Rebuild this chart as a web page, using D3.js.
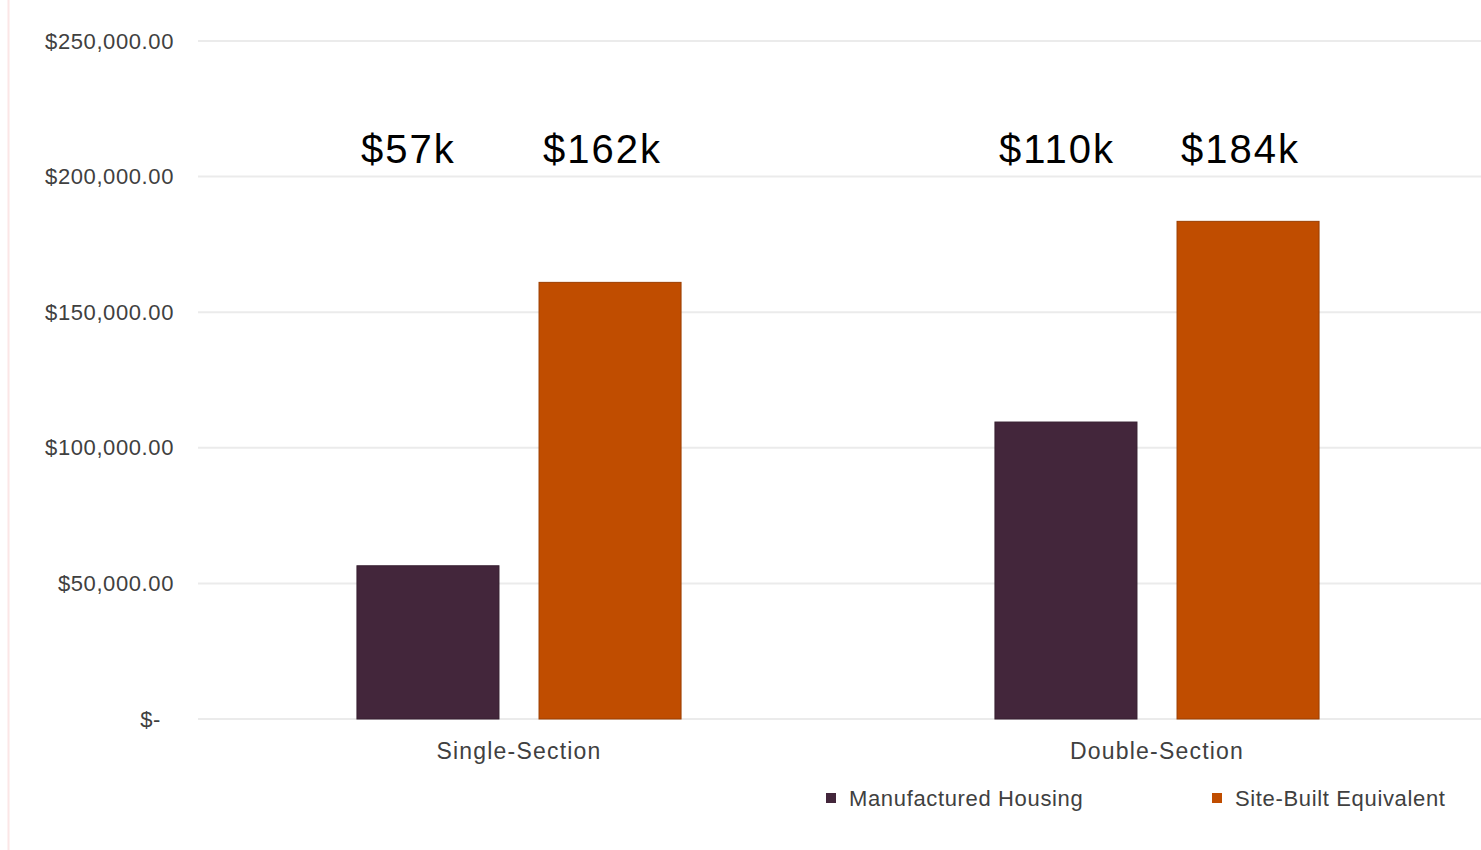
<!DOCTYPE html>
<html>
<head>
<meta charset="utf-8">
<script src="https://cdn.jsdelivr.net/npm/d3@7"></script>
<style>
  body { margin: 0; background: #fff; }
  svg text { font-family: "Liberation Sans", Arial, sans-serif; }
</style>
</head>
<body>
<div id="chart"></div>
<script>
// data
const categories = ['Single-Section', 'Double-Section'];
const seriesNames = ['Manufactured Housing', 'Site-Built Equivalent'];
const manufacturedValues = [56500, 109500];
const siteBuiltValues = [161000, 183500];
const valueLabels = [['$57k', '$162k'], ['$110k', '$184k']];
const yTicks = [0, 50000, 100000, 150000, 200000, 250000];
const colors = ['#43263b', '#c04d00'];

const width = 1481;
const height = 850;

const rows = categories.map((c, i) => ({
  category: c,
  values: [manufacturedValues[i], siteBuiltValues[i]],
  labels: valueLabels[i],
}));

const svg = d3
  .select('#chart')
  .append('svg')
  .attr('width', width)
  .attr('height', height);

// faint line down the left edge of the original slide
svg.append('line')
  .attr('x1', 8.5).attr('x2', 8.5)
  .attr('y1', 0).attr('y2', height)
  .attr('stroke', '#fbe6e6')
  .attr('stroke-width', 2);

const y = d3.scaleLinear().domain([0, 250000]).range([719, 41]);

const x0 = d3.scaleBand()
  .domain(categories)
  .range([200, 1476])
  .paddingInner(0.492)
  .paddingOuter(0.246);

const x1 = d3.scaleBand()
  .domain(seriesNames)
  .range([0, x0.bandwidth()])
  .paddingInner(0.22);

// gridlines
svg.append('g')
  .selectAll('line')
  .data(yTicks)
  .join('line')
  .attr('x1', 198)
  .attr('x2', width)
  .attr('y1', (d) => y(d))
  .attr('y2', (d) => y(d))
  .attr('stroke', '#ebebeb')
  .attr('stroke-width', 2);

// y axis labels
const fmt = d3.format('$,.2f');
const yAxis = svg.append('g')
  .attr('transform', 'translate(174,0)')
  .call(d3.axisLeft(y).tickValues(yTicks).tickSize(0).tickPadding(0)
    .tickFormat((d) => (d === 0 ? '$-' : fmt(d))));
yAxis.select('.domain').remove();
yAxis.selectAll('text')
  .attr('fill', '#404040')
  .attr('font-size', 22)
  .attr('font-family', '"Liberation Sans", Arial, sans-serif')
  .attr('letter-spacing', 0.6)
  .attr('dx', (d) => (d === 0 ? -13 : 0));

// bars
const groups = svg.append('g')
  .selectAll('g')
  .data(rows)
  .join('g')
  .attr('transform', (d) => `translate(${x0(d.category)},0)`);

groups.selectAll('rect')
  .data((d) => d.values.map((v, i) => ({ key: seriesNames[i], value: v, i })))
  .join('rect')
  .attr('x', (d) => x1(d.key))
  .attr('y', (d) => y(d.value))
  .attr('width', x1.bandwidth())
  .attr('height', (d) => y(0) - y(d.value))
  .attr('fill', (d) => colors[d.i])
  .attr('stroke', (d) => d3.color(colors[d.i]).darker(0.6))
  .attr('stroke-width', 1);

// value call-outs placed above the plot
groups.selectAll('text.val')
  .data((d) => d.labels.map((t, i) => ({ key: seriesNames[i], text: t })))
  .join('text')
  .attr('class', 'val')
  .attr('x', (d) => x1(d.key) + 4)
  .attr('y', 163)
  .attr('font-family', 'Lato, "Open Sans", sans-serif')
  .attr('font-size', 40)
  .attr('letter-spacing', 2)
  .attr('fill', '#000')
  .text((d) => d.text);

// category labels
svg.append('g')
  .selectAll('text')
  .data(categories)
  .join('text')
  .attr('x', (d) => x0(d) + x0.bandwidth() / 2)
  .attr('y', 759)
  .attr('text-anchor', 'middle')
  .attr('font-size', 23)
  .attr('letter-spacing', 1.2)
  .attr('fill', '#404040')
  .text((d) => d);

// legend
const legendX = [826, 1212];
const legend = svg.append('g')
  .selectAll('g')
  .data(seriesNames)
  .join('g')
  .attr('transform', (d, i) => `translate(${legendX[i]},793)`);

legend.append('rect')
  .attr('width', 10)
  .attr('height', 10)
  .attr('fill', (d, i) => colors[i]);

legend.append('text')
  .attr('x', 23)
  .attr('y', 13)
  .attr('font-size', 22)
  .attr('letter-spacing', 0.65)
  .attr('fill', '#404040')
  .text((d) => d);
</script>
</body>
</html>
